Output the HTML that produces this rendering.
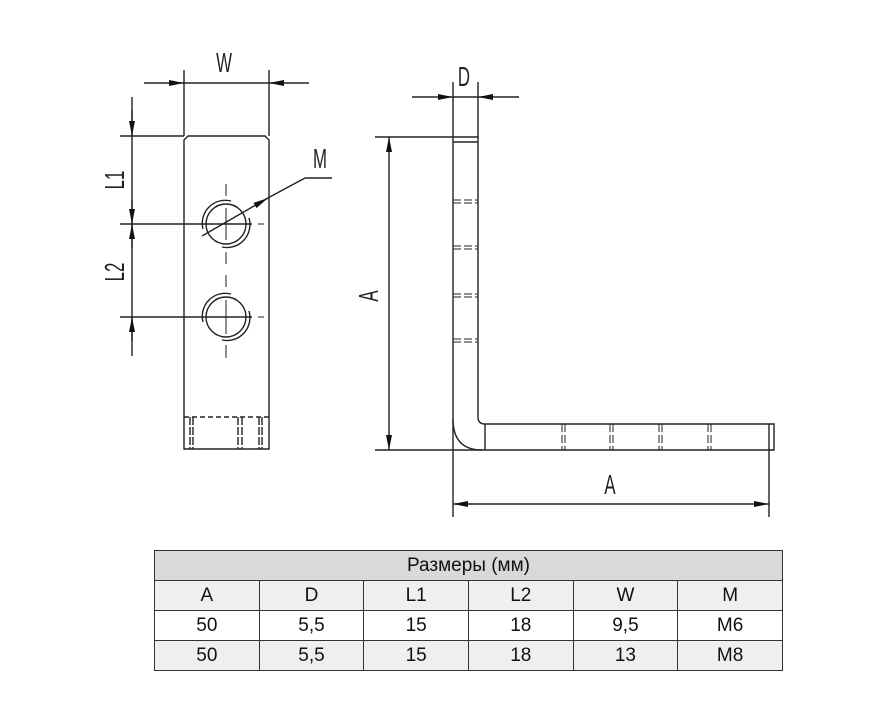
<!DOCTYPE html>
<html><head><meta charset="utf-8"><style>
body{margin:0;background:#fff;width:894px;height:721px;overflow:hidden;position:relative}
svg{position:absolute;left:0;top:0}
table{position:absolute;left:154px;top:550px;width:629px;border-collapse:collapse;font-family:"Liberation Sans","DejaVu Sans",sans-serif;font-size:19px;color:#111}
td{border:1.5px solid #333;height:29px;text-align:center;padding:0;width:104px}
</style></head><body>
<svg width="894" height="721" viewBox="0 0 894 721">
<defs>
<marker id="ar" viewBox="0 0 10 4" refX="10" refY="2" markerWidth="17" markerHeight="6" markerUnits="userSpaceOnUse" orient="auto-start-reverse"><path d="M0,0L10,2L0,4z" fill="#111"/></marker>
</defs>
<g stroke="#222" stroke-width="1.4" fill="none">
<path d="M184,449V140L188,136H265L269,140V449Z"/>
<line x1="184" y1="417" x2="269" y2="417" stroke-dasharray="5,3"/>
<path d="M190,417V449M193,417V449M238,417V449M242,417V449M259,417V449M262,417V449" stroke-dasharray="8,2"/>
<line x1="184" y1="70" x2="184" y2="136"/><line x1="269" y1="70" x2="269" y2="136"/>
<line x1="144" y1="83" x2="184" y2="83" marker-end="url(#ar)"/>
<line x1="309" y1="83" x2="269" y2="83" marker-end="url(#ar)"/>
<line x1="184" y1="83" x2="269" y2="83"/>
<line x1="120" y1="136" x2="184" y2="136"/>
<line x1="120" y1="224" x2="252" y2="224"/>
<line x1="120" y1="317" x2="252" y2="317"/>
<line x1="132" y1="97" x2="132" y2="356"/>
<line x1="132" y1="110" x2="132" y2="136" marker-end="url(#ar)"/>
<line x1="132" y1="200" x2="132" y2="224" marker-end="url(#ar)"/>
<line x1="132" y1="248" x2="132" y2="224" marker-end="url(#ar)"/>
<line x1="132" y1="341" x2="132" y2="317" marker-end="url(#ar)"/>
<circle cx="226" cy="224" r="20"/><path d="M203,229A23,23 0 0 1 231,201M249,218A23,23 0 0 1 222,247"/>
<circle cx="226" cy="317" r="20"/><path d="M203,322A23,23 0 0 1 231,294M249,311A23,23 0 0 1 222,340"/>
<path d="M226,184V196M226,208V240M226,252V264M226,275V287M226,300V334M226,345V358M212,224H240M212,317H240M258,224H264M258,317H264" stroke-width="1"/>
<line x1="202" y1="236" x2="268" y2="198" marker-end="url(#ar)"/>
<line x1="266" y1="199" x2="305" y2="178"/><line x1="305" y1="178" x2="332" y2="178"/>
<path d="M453,137V450H774V424H485Q478,424 478,417V137Z"/>
<line x1="453" y1="142" x2="478" y2="142"/>
<path d="M453,419Q453,450 482,450M485,424V450M769,424V450"/>
<path d="M453,200H478M453,203H478M453,246H478M453,249H478M453,294H478M453,297H478M453,339H478M453,342H478" stroke-dasharray="8,3" stroke-width="1"/>
<path d="M562,424V450M565,424V450M610,424V450M613,424V450M659,424V450M662,424V450M708,424V450M711,424V450" stroke-dasharray="8,3" stroke-width="1"/>
<line x1="453" y1="82" x2="453" y2="137"/><line x1="478" y1="82" x2="478" y2="137"/>
<line x1="412" y1="97" x2="453" y2="97" marker-end="url(#ar)"/>
<line x1="519" y1="97" x2="478" y2="97" marker-end="url(#ar)"/>
<line x1="453" y1="97" x2="478" y2="97"/>
<line x1="375" y1="137" x2="453" y2="137"/><line x1="375" y1="450" x2="453" y2="450"/>
<line x1="389" y1="137" x2="389" y2="450" marker-start="url(#ar)" marker-end="url(#ar)"/>
<line x1="453" y1="450" x2="453" y2="517"/><line x1="769" y1="450" x2="769" y2="517"/>
<line x1="453" y1="504" x2="769" y2="504" marker-start="url(#ar)" marker-end="url(#ar)"/>
</g>
<g font-family="Liberation Sans,sans-serif" font-size="28" fill="#222" text-anchor="middle">
<text x="224" y="72" transform="translate(224,0) scale(0.6,1) translate(-224,0)">W</text>
<text x="320" y="168" transform="translate(320,0) scale(0.6,1) translate(-320,0)">M</text>
<text x="464" y="86" transform="translate(464,0) scale(0.6,1) translate(-464,0)">D</text>
<text x="610" y="494" transform="translate(610,0) scale(0.6,1) translate(-610,0)">A</text>
<text transform="translate(378,296) rotate(-90) scale(0.6,1)" x="0" y="0">A</text>
<text transform="translate(124,180) rotate(-90) scale(0.6,1)" x="0" y="0">L1</text>
<text transform="translate(124,272) rotate(-90) scale(0.6,1)" x="0" y="0">L2</text>
</g>
</svg>
<table>
<tr style="background:#d9d9d9"><td colspan="6">Размеры (мм)</td></tr>
<tr style="background:#efefef"><td>A</td><td>D</td><td>L1</td><td>L2</td><td>W</td><td>M</td></tr>
<tr style="background:#fff"><td>50</td><td>5,5</td><td>15</td><td>18</td><td>9,5</td><td>M6</td></tr>
<tr style="background:#efefef"><td>50</td><td>5,5</td><td>15</td><td>18</td><td>13</td><td>M8</td></tr>
</table>
</body></html>
